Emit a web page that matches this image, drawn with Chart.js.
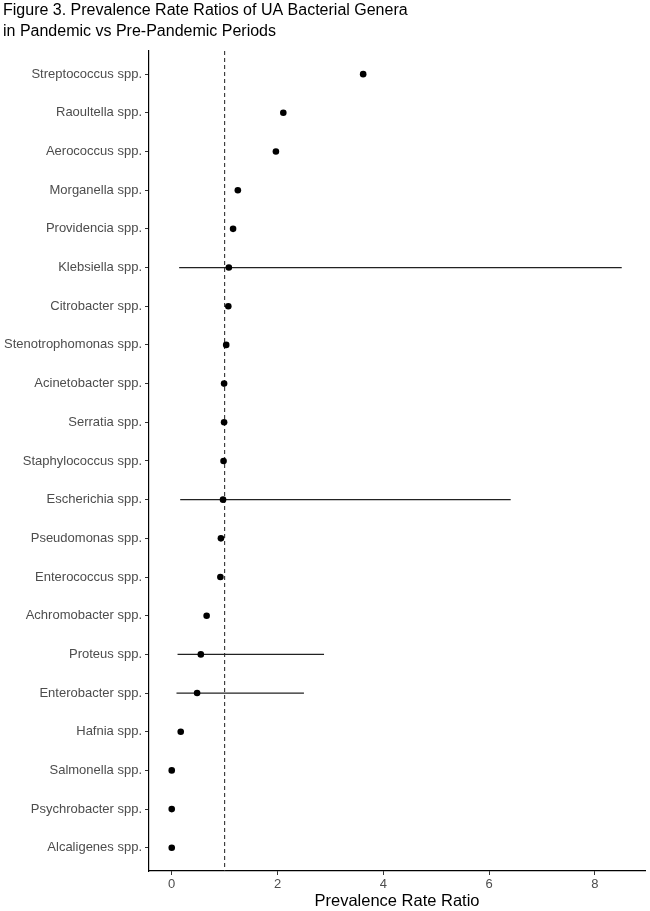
<!DOCTYPE html>
<html>
<head>
<meta charset="utf-8">
<script src="https://cdn.jsdelivr.net/npm/chart.js@4.4.1/dist/chart.umd.min.js"></script>
<style>
  html, body { margin: 0; padding: 0; background: #fff; }
</style>
</head>
<body>
<canvas id="prrChart" width="650" height="911"></canvas>
<script>
const genera = [
    'Streptococcus spp.', 'Raoultella spp.', 'Aerococcus spp.', 'Morganella spp.',
    'Providencia spp.', 'Klebsiella spp.', 'Citrobacter spp.', 'Stenotrophomonas spp.',
    'Acinetobacter spp.', 'Serratia spp.', 'Staphylococcus spp.', 'Escherichia spp.',
    'Pseudomonas spp.', 'Enterococcus spp.', 'Achromobacter spp.', 'Proteus spp.',
    'Enterobacter spp.', 'Hafnia spp.', 'Salmonella spp.', 'Psychrobacter spp.',
    'Alcaligenes spp.'
];
const prr = [3.62, 2.11, 1.97, 1.25, 1.16, 1.08, 1.07, 1.03, 0.99, 0.99, 0.98, 0.97,
    0.93, 0.92, 0.66, 0.55, 0.48, 0.17, 0, 0, 0];
const ciLow = [null, null, null, null, null, 0.14, null, null, null, null, null, 0.16,
    null, null, null, 0.11, 0.09, null, null, null, null];
const ciHigh = [null, null, null, null, null, 8.51, null, null, null, null, null, 6.41,
    null, null, null, 2.88, 2.50, null, null, null, null];
const xTicks = [0, 2, 4, 6, 8];
const refValue = 1;

const FONT = "'Liberation Sans', Arial, sans-serif";
Chart.defaults.font.family = FONT;

const datasets = [];

// point estimates
datasets.push({
    label: 'PRR',
    data: genera.map((g, i) => ({ x: prr[i], y: i })),
    backgroundColor: '#000',
    borderWidth: 0,
    pointRadius: 3.3,
    order: 0
});

// confidence intervals
genera.forEach((g, i) => {
    if (ciLow[i] === null) return;
    datasets.push({
        label: g + ' CI',
        data: [{ x: ciLow[i], y: i }, { x: ciHigh[i], y: i }],
        showLine: true,
        borderColor: '#222',
        borderWidth: 1.2,
        pointRadius: 0,
        order: 1
    });
});

// reference line at PRR = 1
datasets.push({
    label: 'ref',
    data: [{ x: refValue, y: -0.6 }, { x: refValue, y: genera.length - 0.4 }],
    showLine: true,
    borderColor: '#333',
    borderWidth: 1.1,
    borderDash: [4, 3],
    pointRadius: 0,
    order: 2
});

new Chart(document.getElementById('prrChart').getContext('2d'), {
    type: 'scatter',
    data: { datasets: datasets },
    options: {
        responsive: false,
        animation: false,
        layout: { padding: { left: 3, right: 5, top: 0, bottom: 0 } },
        plugins: {
            legend: { display: false },
            tooltip: { enabled: false },
            title: {
                display: true,
                text: ['Figure 3. Prevalence Rate Ratios of UA Bacterial Genera',
                       'in Pandemic vs Pre-Pandemic Periods'],
                align: 'start',
                color: '#000',
                font: { size: 16, weight: 'normal', lineHeight: 1.31 },
                padding: { top: 0, bottom: 9 }
            }
        },
        scales: {
            x: {
                type: 'linear',
                min: -0.43,
                max: 8.95,
                afterBuildTicks: s => { s.ticks = xTicks.map(v => ({ value: v })); },
                afterFit: s => { s.height = 40; },
                grid: { drawOnChartArea: false, drawTicks: true, tickLength: 4, color: '#333' },
                border: { display: true, color: '#000', width: 1.2 },
                ticks: { color: '#4d4d4d', font: { size: 13 }, padding: 2 },
                title: {
                    display: true,
                    text: 'Prevalence Rate Ratio',
                    color: '#000',
                    font: { size: 16.5 },
                    padding: { top: 0, bottom: 0 }
                }
            },
            y: {
                type: 'linear',
                reverse: true,
                min: -0.6,
                max: genera.length - 0.4,
                afterBuildTicks: s => { s.ticks = genera.map((g, i) => ({ value: i })); },
                afterFit: s => { s.width = 146; },
                grid: { drawOnChartArea: false, drawTicks: true, tickLength: 4, color: '#333' },
                border: { display: true, color: '#000', width: 1.2 },
                ticks: {
                    autoSkip: false,
                    color: '#4d4d4d',
                    font: { size: 13 },
                    padding: 3,
                    callback: v => genera[v]
                }
            }
        }
    }
});
</script>
</body>
</html>
